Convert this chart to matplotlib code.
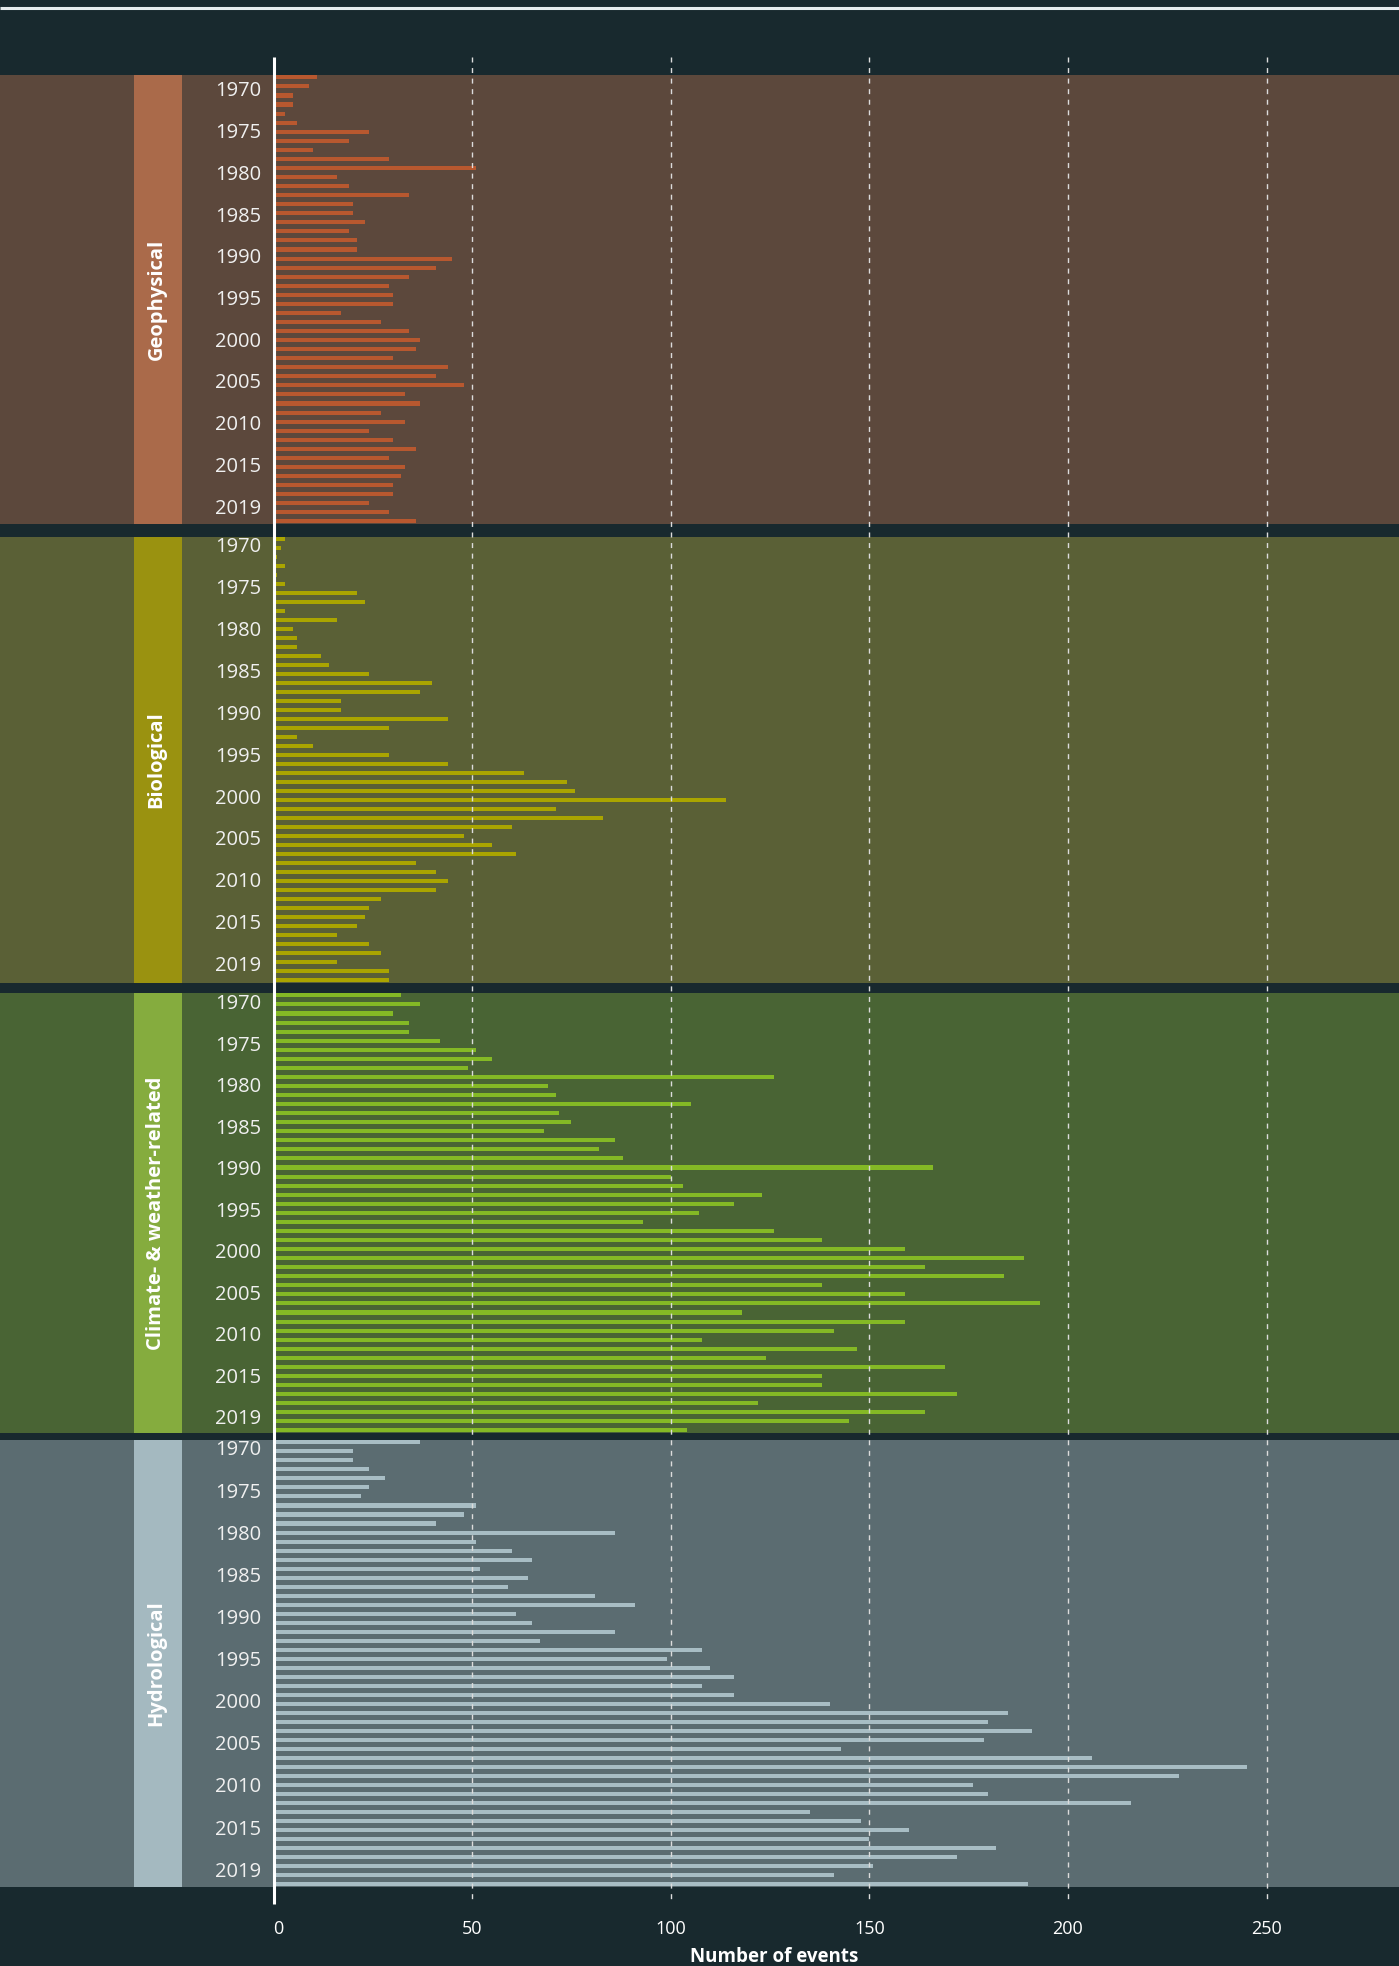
import numpy as np
import matplotlib
matplotlib.use('Agg')
import matplotlib.pyplot as plt

# ---------------- data ----------------
categories = ['Geophysical', 'Biological', 'Climate- & weather-related', 'Hydrological']

geophysical = [11, 9, 5, 5, 3, 6, 24, 19, 10, 29, 51, 16, 19, 34, 20, 20, 23, 19, 21, 21,
               45, 41, 34, 29, 30, 30, 17, 27, 34, 37, 36, 30, 44, 41, 48, 33, 37, 27, 33, 24,
               30, 36, 29, 33, 32, 30, 30, 24, 29, 36]

biological = [3, 2, 1, 3, 1, 3, 21, 23, 3, 16, 5, 6, 6, 12, 14, 24, 40, 37, 17, 17,
              44, 29, 6, 10, 29, 44, 63, 74, 76, 114, 71, 83, 60, 48, 55, 61, 36, 41, 44, 41,
              27, 24, 23, 21, 16, 24, 27, 16, 29, 29]

climate = [32, 37, 30, 34, 34, 42, 51, 55, 49, 126, 69, 71, 105, 72, 75, 68, 86, 82, 88, 166,
           100, 103, 123, 116, 107, 93, 126, 138, 159, 189, 164, 184, 138, 159, 193, 118, 159, 141, 108, 147,
           124, 169, 138, 138, 172, 122, 164, 145, 104]

hydrological = [37, 20, 20, 24, 28, 24, 22, 51, 48, 41, 86, 51, 60, 65, 52, 64, 59, 81, 91, 61,
                65, 86, 67, 108, 99, 110, 116, 108, 116, 140, 185, 180, 191, 179, 143, 206, 245, 228, 176, 180,
                216, 135, 148, 160, 150, 182, 172, 151, 141, 190]

year_labels = ['1970', '1975', '1980', '1985', '1990', '1995', '2000', '2005', '2010', '2015', '2019']
x_ticks = [0, 50, 100, 150, 200, 250]
x_label = 'Number of events'

# ---------------- style / layout ----------------
plt.rcParams['font.family'] = ['Open Sans', 'DejaVu Sans']
plt.rcParams['lines.scale_dashes'] = False

W, H, DPI = 1399, 1966, 100
BG = '#18292E'
series = [geophysical, biological, climate, hydrological]
panel_bg = ['#5C483C', '#5A6036', '#496434', '#5B6C71']
band_colors = ['#AA6A4A', '#9A9210', '#85AC3E', '#A4B9C0']
bar_colors = ['#B8582F', '#AAA500', '#84B925', '#A8BDC4']
panel_px = [(75, 524), (537, 983), (993, 1433), (1440, 1887)]
label_rows = [(1.55, 47.6), (0.9, 47.4), (1.0, 46.8), (0.9, 47.6)]

X0_PX, PPU = 273.5, 3.972
xmin = -X0_PX / PPU
xmax = (W - X0_PX) / PPU
band_x0 = (134 - X0_PX) / PPU
band_x1 = (182 - X0_PX) / PPU
ylab_x = (261 - X0_PX) / PPU

fig = plt.figure(figsize=(W / DPI, H / DPI), dpi=DPI, facecolor=BG)

for i, vals in enumerate(series):
    top, bot = panel_px[i]
    ax = fig.add_axes([0, 1 - bot / H, 1, (bot - top) / H])
    ax.set_facecolor(panel_bg[i])
    n = len(vals)
    pos = np.arange(n)
    ax.barh(pos, vals, height=0.45, color=bar_colors[i], zorder=3)
    ax.set_xlim(xmin, xmax)
    ax.set_ylim(n - 1 + 0.3, -0.26)
    ax.axvspan(band_x0, band_x1, color=band_colors[i], zorder=1, lw=0)
    for s in ax.spines.values():
        s.set_visible(False)
    ax.set_xticks([])
    ax.set_yticks([])
    ax.text((band_x0 + band_x1) / 2 - 0.4, (n - 1) / 2, categories[i], rotation=90,
            ha='center', va='center', color='white', fontsize=14.5, fontweight='bold', zorder=4)
    first, last = label_rows[i]
    for lab, yy in zip(year_labels, np.linspace(first, last, len(year_labels))):
        ax.text(ylab_x, yy, lab, ha='right', va='center', color='#f0f0f0', fontsize=14.5, zorder=4)

ov = fig.add_axes([0, 0, 1, 1])
ov.set_zorder(10)
ov.patch.set_alpha(0)
ov.set_xlim(xmin, xmax)
ov.set_ylim(H, 0)
for s in ov.spines.values():
    s.set_visible(False)
ov.set_xticks([])
ov.set_yticks([])

ov.hlines(7.5, xmin, xmax, color='#e6ecee', lw=2.2)
ov.vlines(x_ticks[1:], 57, 1904, colors='#dcdcdc', lw=1.0, linestyles=(0, (3.6, 4.0)))
ov.vlines(0, 57, 1904, colors='white', lw=2.2)
for t in x_ticks:
    ov.text(t + (1.2 if t == 0 else 0), 1929, str(t), ha='center', va='center', color='white', fontsize=13)
ov.text(126, 1957, x_label, ha='center', va='center', color='white', fontsize=13.5, fontweight='bold')

fig.savefig('out.png', dpi=DPI, facecolor=BG)
